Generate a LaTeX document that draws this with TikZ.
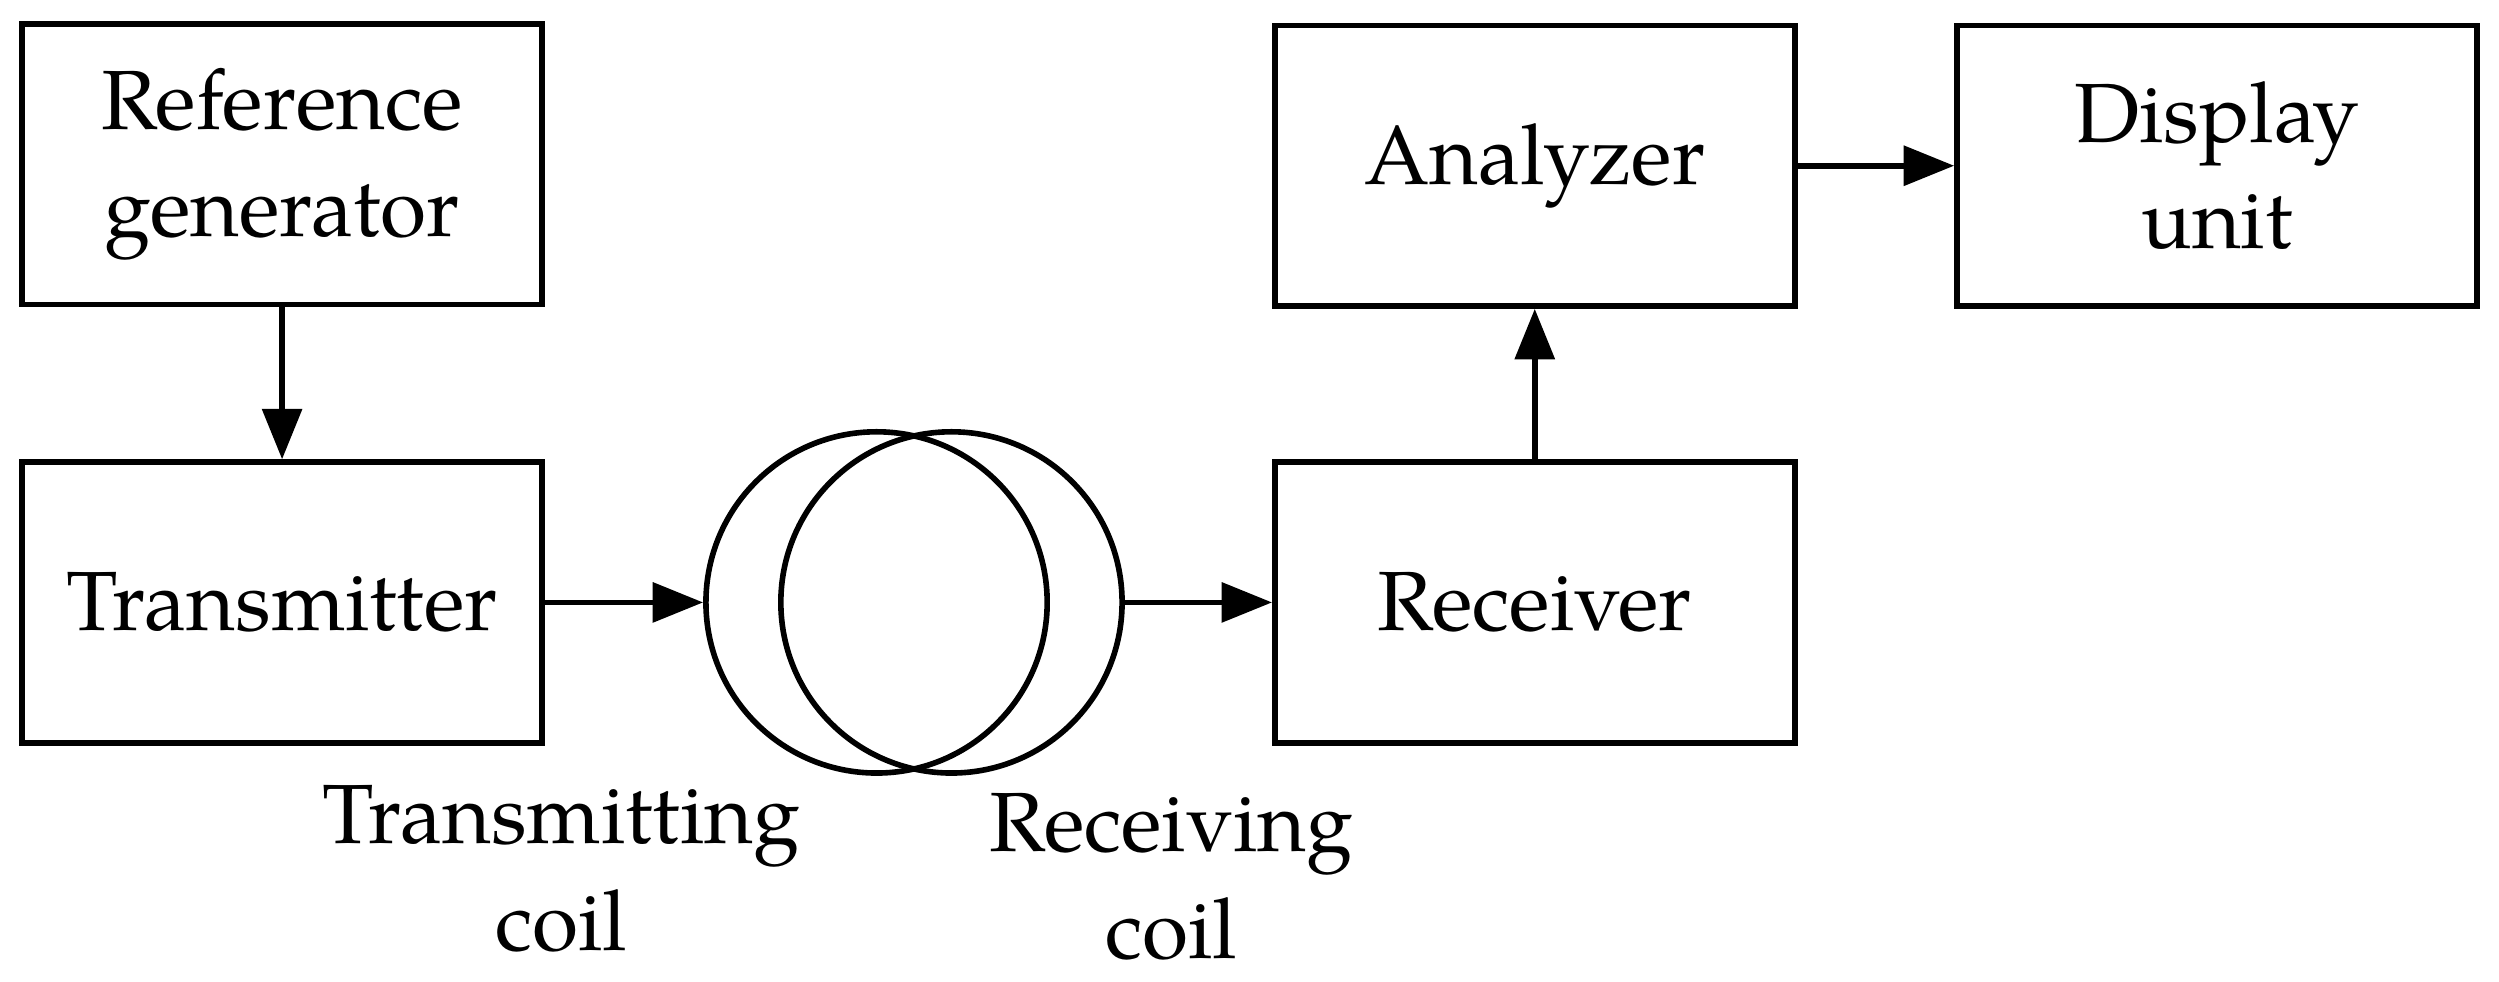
\documentclass[tikz,border=0pt]{standalone}
\usepackage{fontspec}
\setmainfont{TeX Gyre Pagella}
\usetikzlibrary{arrows.meta}
\begin{document}
\begin{tikzpicture}[x=0.01cm,y=-0.01cm,
  box/.style={draw,line width=1pt,minimum width=3.26cm,minimum height=1.76cm,align=center,font=\fontsize{15}{19}\selectfont},
  coil/.style={draw,line width=1pt,circle,minimum size=2.14cm,inner sep=0pt},
  lbl/.style={align=center,font=\fontsize{15}{19}\selectfont},
  arr/.style={line width=1pt,-{Triangle[length=9pt,width=7pt]}}]
\useasboundingbox (0,0) rectangle (1568,616);
\node[box] (ref) at (177,103) {Reference\\generator};
\node[box] (tx) at (177,378) {Transmitter};
\node[box] (an) at (963,104) {Analyzer};
\node[box] (disp) at (1391,104) {Display\\unit};
\node[box] (rx) at (963,378) {Receiver};
\node[coil] (c1) at (550,378) {};
\node[coil] (c2) at (597,378) {};
\node[lbl] (l1) at (352,545) {Transmitting\\coil};
\node[lbl] (l2) at (735,550) {Receiving\\coil};
\draw[arr] (ref.south) -- (tx.north);
\draw[arr] (tx.east) -- (c1.west);
\draw[arr] (c2.east) -- (rx.west);
\draw[arr] (rx.north) -- (an.south);
\draw[arr] (an.east) -- (disp.west);
\end{tikzpicture}
\end{document}
